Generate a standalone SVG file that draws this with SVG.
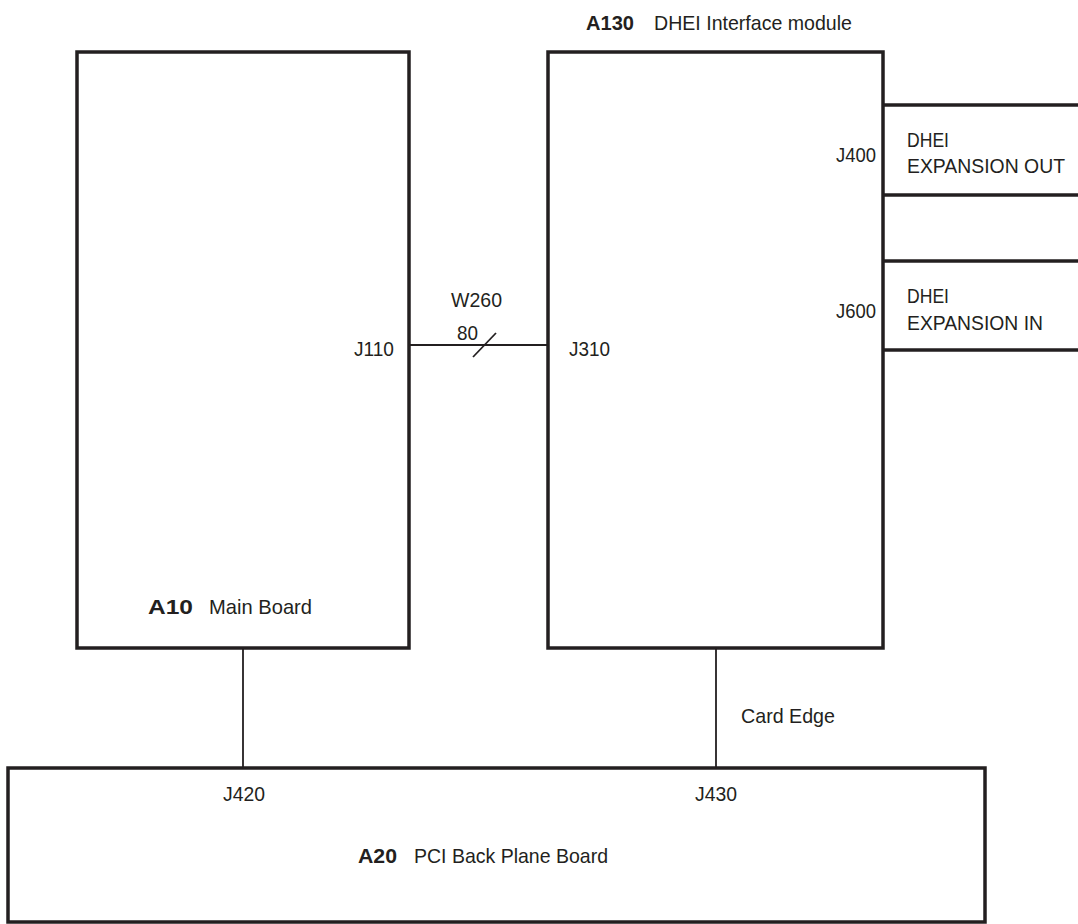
<svg xmlns="http://www.w3.org/2000/svg" width="1078" height="924" viewBox="0 0 1078 924">
<style>
.box{fill:none;stroke:#231f20;stroke-width:3.5}
.ln{fill:none;stroke:#231f20;stroke-width:1.8}
text{font-family:"Liberation Sans",Arial,sans-serif;font-size:21px;fill:#231f20}
.b{font-weight:bold}
</style>
<rect width="1078" height="924" fill="#fff"/>
<g id="A10">
<rect class="box" x="77" y="52" width="332" height="596"/>
<text x="148" y="614" class="b" textLength="45" lengthAdjust="spacingAndGlyphs">A10</text>
<text x="209" y="614" textLength="103" lengthAdjust="spacingAndGlyphs">Main Board</text>
<text x="354" y="356" textLength="40" lengthAdjust="spacingAndGlyphs">J110</text>
</g>
<g id="A130">
<rect class="box" x="548" y="52" width="335" height="596"/>
<text x="586" y="30" class="b" textLength="48" lengthAdjust="spacingAndGlyphs">A130</text>
<text x="654" y="30" textLength="198" lengthAdjust="spacingAndGlyphs">DHEI Interface module</text>
<text x="569" y="356" textLength="41" lengthAdjust="spacingAndGlyphs">J310</text>
<text x="836" y="162" textLength="40" lengthAdjust="spacingAndGlyphs">J400</text>
<text x="836" y="318" textLength="40" lengthAdjust="spacingAndGlyphs">J600</text>
</g>
<g id="DHEI_OUT">
<line class="box" x1="883" y1="105" x2="1078" y2="105"/>
<line class="box" x1="883" y1="195" x2="1078" y2="195"/>
<text x="907" y="147" textLength="42" lengthAdjust="spacingAndGlyphs">DHEI</text>
<text x="907" y="173" textLength="158" lengthAdjust="spacingAndGlyphs">EXPANSION OUT</text>
</g>
<g id="DHEI_IN">
<line class="box" x1="883" y1="261" x2="1078" y2="261"/>
<line class="box" x1="883" y1="350" x2="1078" y2="350"/>
<text x="907" y="303" textLength="42" lengthAdjust="spacingAndGlyphs">DHEI</text>
<text x="907" y="330" textLength="136" lengthAdjust="spacingAndGlyphs">EXPANSION IN</text>
</g>
<g id="A20">
<rect class="box" x="8" y="768" width="977" height="154"/>
<text x="358" y="863" class="b" textLength="39" lengthAdjust="spacingAndGlyphs">A20</text>
<text x="414" y="863" textLength="194" lengthAdjust="spacingAndGlyphs">PCI Back Plane Board</text>
<text x="223" y="801" textLength="42" lengthAdjust="spacingAndGlyphs">J420</text>
<text x="695" y="801" textLength="42" lengthAdjust="spacingAndGlyphs">J430</text>
</g>
<g id="connectors">
<line class="ln" x1="409" y1="345" x2="548" y2="345"/>
<line class="ln" x1="473" y1="357" x2="496" y2="333"/>
<text x="451" y="307" textLength="51" lengthAdjust="spacingAndGlyphs">W260</text>
<text x="457" y="340" textLength="21" lengthAdjust="spacingAndGlyphs">80</text>
<line class="ln" x1="243" y1="648" x2="243" y2="768"/>
<line class="ln" x1="716" y1="648" x2="716" y2="768"/>
<text x="741" y="723" textLength="94" lengthAdjust="spacingAndGlyphs">Card Edge</text>
</g>
</svg>
